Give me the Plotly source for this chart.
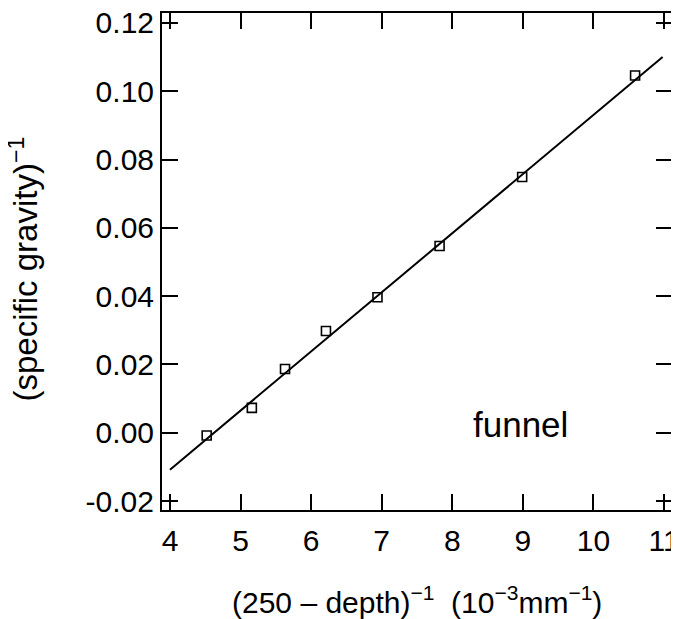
import plotly.graph_objects as go

# measured data (x: (250-depth)^-1 in 1e-3 mm^-1, y: (specific gravity)^-1)
x_points = [4.52, 5.16, 5.63, 6.21, 6.94, 7.82, 8.99, 10.59]
y_points = [-0.0008, 0.0073, 0.0187, 0.0298, 0.0397, 0.0547, 0.0749, 0.1046]

# fitted line endpoints
x_fit = [4.0, 10.98]
y_fit = [-0.0108, 0.1100]

x_ticks = [4, 5, 6, 7, 8, 9, 10, 11]
y_ticks = [-0.02, 0.00, 0.02, 0.04, 0.06, 0.08, 0.10, 0.12]
y_tick_labels = ["-0.02", "0.00", "0.02", "0.04", "0.06", "0.08", "0.10", "0.12"]

x_title = "(250 – depth)<sup>−1</sup>  (10<sup>−3</sup>mm<sup>−1</sup>)"
y_title = "(specific gravity)<sup>−1</sup>"

fig = go.Figure()
fig.add_trace(go.Scatter(x=x_fit, y=y_fit, mode="lines",
                         line=dict(color="black", width=2), showlegend=False))
fig.add_trace(go.Scatter(x=x_points, y=y_points, mode="markers",
                         marker=dict(symbol="square-open", size=9, color="black",
                                     line=dict(width=1.6, color="black")),
                         showlegend=False))

fig.add_annotation(x=8.96, y=0.0023, text="funnel", showarrow=False,
                   font=dict(size=35, color="black"), xanchor="center", yanchor="middle")

fig.add_annotation(xref="paper", yref="paper", x=0.5, y=0, text=x_title,
                   showarrow=False, xanchor="center", yanchor="middle",
                   yshift=-90, font=dict(size=30, color="black"))
fig.add_annotation(xref="paper", yref="paper", x=0, y=0.5, text=y_title,
                   showarrow=False, xanchor="center", yanchor="middle", textangle=-90,
                   xshift=-139, yshift=-8, font=dict(size=33, color="black"))

axis_common = dict(showline=True, linecolor="black", linewidth=2, mirror="ticks",
                   ticks="inside", ticklen=16, tickwidth=2, tickcolor="black",
                   showgrid=False, zeroline=False, automargin=False,
                   ticklabeloverflow="allow",
                   tickfont=dict(size=30, color="black"))

fig.update_xaxes(range=[3.887, 11.113], tickvals=x_ticks, ticklabelstandoff=3,
                 **axis_common)
fig.update_yaxes(range=[-0.0226, 0.1229], tickvals=y_ticks, ticktext=y_tick_labels,
                 **axis_common)

# the page body adds an 8px margin, so the figure is sized to fit the window
fig.update_layout(width=671, height=611, plot_bgcolor="white", paper_bgcolor="white",
                  margin=dict(l=154, r=7, t=5, b=109),
                  font=dict(family="Liberation Sans, Arial, sans-serif", color="black"))

fig.write_html("out.html")
